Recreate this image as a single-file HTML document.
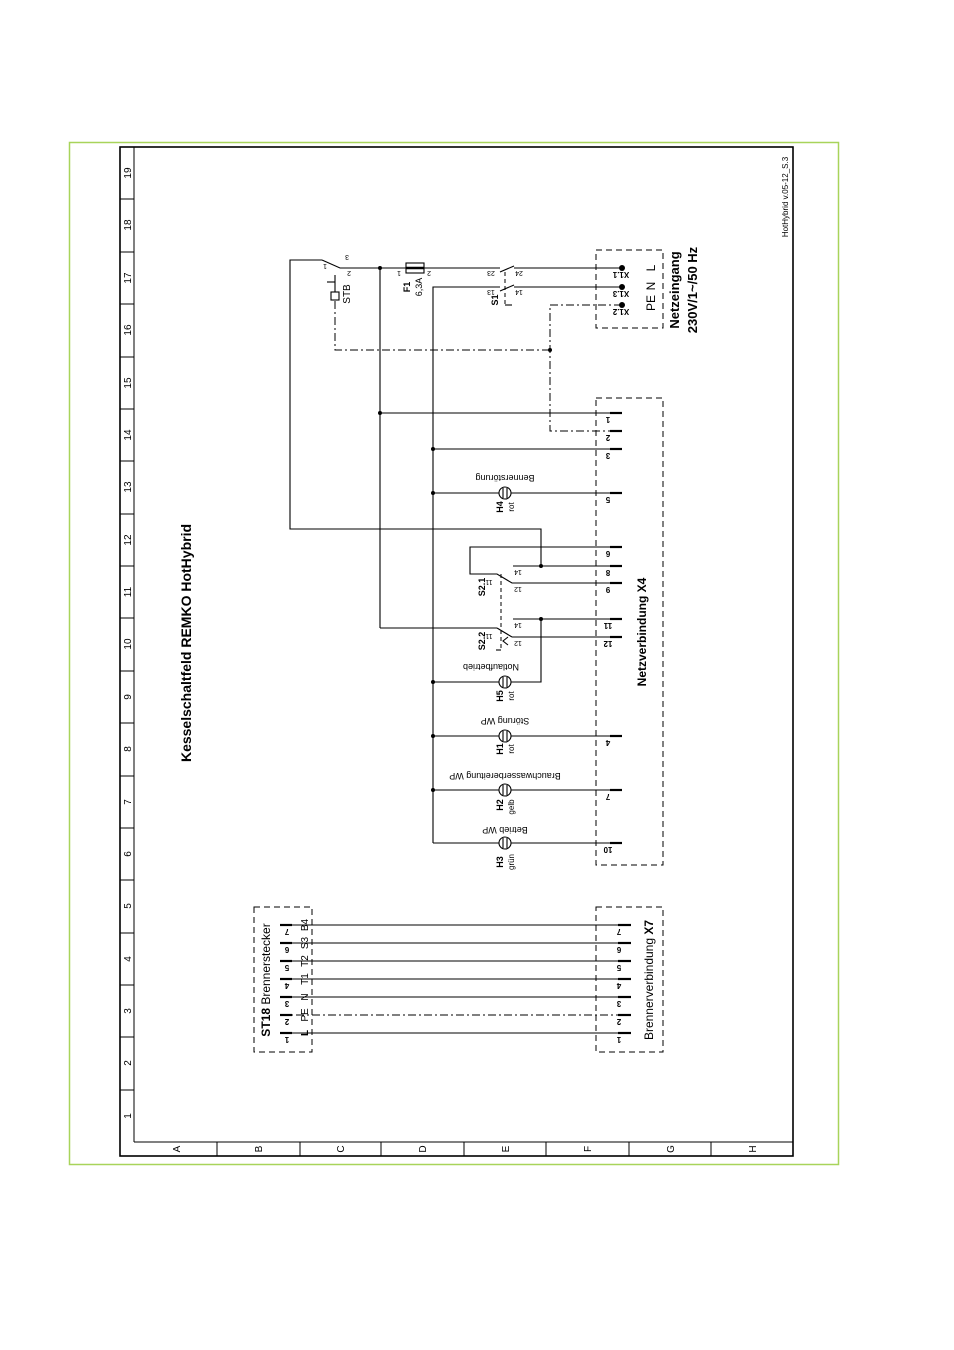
<!DOCTYPE html>
<html><head><meta charset="utf-8"><style>
html,body{margin:0;padding:0;background:#fff;}
svg{display:block;font-family:"Liberation Sans",sans-serif;}
</style></head><body>
<svg width="954" height="1350" viewBox="0 0 954 1350" xmlns="http://www.w3.org/2000/svg">
<rect x="69.5" y="142.5" width="769" height="1022" fill="none" stroke="#a8d45a" stroke-width="1.5"/>
<g stroke="#000" fill="none">
<rect x="120" y="147" width="673" height="1009" stroke-width="1.6"/>
<line x1="134" y1="147" x2="134" y2="1142" stroke-width="1"/>
<line x1="134" y1="1142" x2="793" y2="1142" stroke-width="1"/>
<g stroke-width="1">
<line x1="120" y1="199" x2="134" y2="199"/><line x1="120" y1="252" x2="134" y2="252"/><line x1="120" y1="304" x2="134" y2="304"/><line x1="120" y1="357" x2="134" y2="357"/><line x1="120" y1="409" x2="134" y2="409"/><line x1="120" y1="461" x2="134" y2="461"/><line x1="120" y1="514" x2="134" y2="514"/><line x1="120" y1="566" x2="134" y2="566"/><line x1="120" y1="618" x2="134" y2="618"/><line x1="120" y1="671" x2="134" y2="671"/><line x1="120" y1="723" x2="134" y2="723"/><line x1="120" y1="776" x2="134" y2="776"/><line x1="120" y1="828" x2="134" y2="828"/><line x1="120" y1="880" x2="134" y2="880"/><line x1="120" y1="933" x2="134" y2="933"/><line x1="120" y1="985" x2="134" y2="985"/><line x1="120" y1="1037" x2="134" y2="1037"/><line x1="120" y1="1090" x2="134" y2="1090"/>
<line x1="217" y1="1142" x2="217" y2="1156"/><line x1="300" y1="1142" x2="300" y2="1156"/><line x1="381" y1="1142" x2="381" y2="1156"/><line x1="464" y1="1142" x2="464" y2="1156"/><line x1="546" y1="1142" x2="546" y2="1156"/><line x1="629" y1="1142" x2="629" y2="1156"/><line x1="711" y1="1142" x2="711" y2="1156"/>
</g>
</g>
<g font-size="10" text-anchor="middle" fill="#000">
<text transform="translate(131,173) rotate(-90)">19</text><text transform="translate(131,225) rotate(-90)">18</text><text transform="translate(131,278) rotate(-90)">17</text><text transform="translate(131,330) rotate(-90)">16</text><text transform="translate(131,383) rotate(-90)">15</text><text transform="translate(131,435) rotate(-90)">14</text><text transform="translate(131,487) rotate(-90)">13</text><text transform="translate(131,540) rotate(-90)">12</text><text transform="translate(131,592) rotate(-90)">11</text><text transform="translate(131,644) rotate(-90)">10</text><text transform="translate(131,697) rotate(-90)">9</text><text transform="translate(131,749) rotate(-90)">8</text><text transform="translate(131,802) rotate(-90)">7</text><text transform="translate(131,854) rotate(-90)">6</text><text transform="translate(131,906) rotate(-90)">5</text><text transform="translate(131,959) rotate(-90)">4</text><text transform="translate(131,1011) rotate(-90)">3</text><text transform="translate(131,1063) rotate(-90)">2</text><text transform="translate(131,1116) rotate(-90)">1</text>
<text transform="translate(180,1149) rotate(-90)">A</text><text transform="translate(262,1149) rotate(-90)">B</text><text transform="translate(344,1149) rotate(-90)">C</text><text transform="translate(426,1149) rotate(-90)">D</text><text transform="translate(509,1149) rotate(-90)">E</text><text transform="translate(591,1149) rotate(-90)">F</text><text transform="translate(674,1149) rotate(-90)">G</text><text transform="translate(756,1149) rotate(-90)">H</text>
</g>
<text transform="translate(191,643) rotate(-90)" font-size="14" font-weight="bold" text-anchor="middle">Kesselschaltfeld REMKO HotHybrid</text>
<text transform="translate(788,197) rotate(-90)" font-size="8" text-anchor="middle">HotHybrid v.05-12_S.3</text>

<!-- wiring -->
<g stroke="#000" stroke-width="1.1" fill="none">
<polyline points="322,260 290,260 290,529 541,529 541,566"/>
<line x1="346" y1="268" x2="406" y2="268"/><line x1="424" y1="268" x2="500" y2="268"/><line x1="514" y1="268" x2="622" y2="268"/>
<line x1="380" y1="268" x2="380" y2="628"/>
<line x1="380" y1="413" x2="622" y2="413"/>
<line x1="380" y1="628" x2="497" y2="628"/>
<polyline points="433,843 433,287 500,287"/><line x1="514" y1="287" x2="622" y2="287"/>
<line x1="433" y1="449" x2="622" y2="449"/>
<line x1="433" y1="493" x2="499" y2="493"/><line x1="511" y1="493" x2="622" y2="493"/>
<line x1="433" y1="682" x2="499" y2="682"/><polyline points="511,682 541,682 541,619"/>
<line x1="433" y1="736" x2="499" y2="736"/><line x1="511" y1="736" x2="622" y2="736"/>
<line x1="433" y1="790" x2="499" y2="790"/><line x1="511" y1="790" x2="622" y2="790"/>
<line x1="433" y1="843" x2="499" y2="843"/><line x1="511" y1="843" x2="622" y2="843"/>
<polyline points="622,547 470,547 470,574 497,574 512,583 622,583"/>
<line x1="513" y1="566" x2="622" y2="566"/>
<line x1="497" y1="628" x2="512" y2="637"/><line x1="512" y1="637" x2="622" y2="637"/>
<line x1="513" y1="619" x2="622" y2="619"/>
<!-- S1 blades -->
<line x1="500" y1="272" x2="514" y2="266"/><line x1="500" y1="291" x2="514" y2="285"/>
<line x1="505" y1="305" x2="512" y2="305"/>
<!-- STB -->
<polyline points="322,260 340,268 346,268"/>
<rect x="331" y="292" width="8" height="8"/>
<line x1="335" y1="275" x2="335" y2="292"/>
<line x1="327" y1="282" x2="335" y2="282"/>
<rect x="406" y="263" width="18" height="10"/>
<line x1="406" y1="268" x2="424" y2="268" stroke-width="2.5"/>
<!-- wire 7 lines bottom -->
<line x1="280" y1="925" x2="631" y2="925"/><line x1="280" y1="943" x2="631" y2="943"/><line x1="280" y1="961" x2="631" y2="961"/><line x1="280" y1="979" x2="631" y2="979"/><line x1="280" y1="997" x2="631" y2="997"/><line x1="280" y1="1033" x2="631" y2="1033"/>
<line x1="496" y1="650" x2="501" y2="650"/><polyline points="508,637 503,641 508,645"/>
</g>
<g stroke="#000" stroke-width="1" fill="none" stroke-dasharray="8,3,2,3">
<line x1="280" y1="1015" x2="631" y2="1015"/>
<polyline points="622,305 550,305 550,431 622,431"/>
<polyline points="550,350 335,350 335,300"/>
</g>
<g stroke="#000" stroke-width="1" fill="none" stroke-dasharray="4,3">
<line x1="505" y1="272" x2="505" y2="305"/>
<line x1="501" y1="574" x2="501" y2="650"/>
</g>
<g stroke="#000" stroke-width="1" fill="none" stroke-dasharray="6,4">
<rect x="596" y="250" width="67" height="78"/>
<rect x="596" y="398" width="67" height="467"/>
<rect x="596" y="907" width="67" height="145"/>
<rect x="254" y="907" width="58" height="145"/>
</g>
<!-- terminal stubs -->
<g stroke="#000" stroke-width="2.2">
<line x1="610" y1="413" x2="622" y2="413"/><line x1="610" y1="431" x2="622" y2="431"/><line x1="610" y1="449" x2="622" y2="449"/><line x1="610" y1="493" x2="622" y2="493"/><line x1="610" y1="547" x2="622" y2="547"/><line x1="610" y1="566" x2="622" y2="566"/><line x1="610" y1="583" x2="622" y2="583"/><line x1="610" y1="619" x2="622" y2="619"/><line x1="610" y1="637" x2="622" y2="637"/><line x1="610" y1="736" x2="622" y2="736"/><line x1="610" y1="790" x2="622" y2="790"/><line x1="610" y1="843" x2="622" y2="843"/>
<line x1="618" y1="925" x2="631" y2="925"/><line x1="618" y1="943" x2="631" y2="943"/><line x1="618" y1="961" x2="631" y2="961"/><line x1="618" y1="979" x2="631" y2="979"/><line x1="618" y1="997" x2="631" y2="997"/><line x1="618" y1="1015" x2="631" y2="1015"/><line x1="618" y1="1033" x2="631" y2="1033"/>
<line x1="280" y1="925" x2="292" y2="925"/><line x1="280" y1="943" x2="292" y2="943"/><line x1="280" y1="961" x2="292" y2="961"/><line x1="280" y1="979" x2="292" y2="979"/><line x1="280" y1="997" x2="292" y2="997"/><line x1="280" y1="1015" x2="292" y2="1015"/><line x1="280" y1="1033" x2="292" y2="1033"/>
</g>
<!-- dots -->
<g fill="#000">
<circle cx="622" cy="268" r="3"/><circle cx="622" cy="287" r="3"/><circle cx="622" cy="305" r="3"/>
<circle cx="380" cy="268" r="2"/><circle cx="380" cy="413" r="2"/><circle cx="550" cy="350" r="2"/>
<circle cx="433" cy="449" r="2"/><circle cx="433" cy="493" r="2"/><circle cx="433" cy="682" r="2"/><circle cx="433" cy="736" r="2"/><circle cx="433" cy="790" r="2"/>
<circle cx="541" cy="566" r="2"/><circle cx="541" cy="619" r="2"/>
</g>
<!-- lamps -->
<g stroke="#000" stroke-width="1.1" fill="none">
<circle cx="505" cy="493" r="6"/><line x1="503" y1="488" x2="503" y2="498"/><line x1="507" y1="488" x2="507" y2="498"/>
<circle cx="505" cy="682" r="6"/><line x1="503" y1="677" x2="503" y2="687"/><line x1="507" y1="677" x2="507" y2="687"/>
<circle cx="505" cy="736" r="6"/><line x1="503" y1="731" x2="503" y2="741"/><line x1="507" y1="731" x2="507" y2="741"/>
<circle cx="505" cy="790" r="6"/><line x1="503" y1="785" x2="503" y2="795"/><line x1="507" y1="785" x2="507" y2="795"/>
<circle cx="505" cy="843" r="6"/><line x1="503" y1="838" x2="503" y2="848"/><line x1="507" y1="838" x2="507" y2="848"/>
</g>
<!-- labels -->
<g font-size="9" text-anchor="middle" fill="#000">
<text transform="translate(505,475) rotate(180)">Bennerstörung</text>
<text transform="translate(491,664) rotate(180)">Notlaufbetrieb</text>
<text transform="translate(505,718) rotate(180)">Störung WP</text>
<text transform="translate(505,773) rotate(180)">Brauchwasserbereitung WP</text>
<text transform="translate(505,827) rotate(180)">Betrieb WP</text>
<g font-weight="bold"><text transform="translate(503,507) rotate(-90)">H4</text><text transform="translate(503,696) rotate(-90)">H5</text><text transform="translate(503,749) rotate(-90)">H1</text><text transform="translate(503,805) rotate(-90)">H2</text><text transform="translate(503,862) rotate(-90)">H3</text>
<text transform="translate(485,587) rotate(-90)">S2.1</text><text transform="translate(485,641) rotate(-90)">S2.2</text>
<text transform="translate(498,300) rotate(-90)">S1</text><text transform="translate(410,287) rotate(-90)">F1</text></g>
<g font-size="8"><text transform="translate(514,507) rotate(-90)">rot</text><text transform="translate(514,696) rotate(-90)">rot</text><text transform="translate(514,749) rotate(-90)">rot</text><text transform="translate(514,807) rotate(-90)">gelb</text><text transform="translate(514,862) rotate(-90)">grün</text></g>
<text transform="translate(422,287) rotate(-90)" font-size="9">6,3A</text>
<text transform="translate(350,294) rotate(-90)" font-size="10">STB</text>
<g font-size="7">
<text transform="translate(489,580) rotate(180)">11</text><text transform="translate(518,570) rotate(180)">14</text><text transform="translate(518,587) rotate(180)">12</text>
<text transform="translate(489,634) rotate(180)">11</text><text transform="translate(518,623) rotate(180)">14</text><text transform="translate(518,641) rotate(180)">12</text>
<text transform="translate(491,271) rotate(180)">23</text><text transform="translate(519,271) rotate(180)">24</text><text transform="translate(491,290) rotate(180)">13</text><text transform="translate(519,290) rotate(180)">14</text>
<text transform="translate(399,271) rotate(180)">1</text><text transform="translate(429,271) rotate(180)">2</text>
<text transform="translate(349,271) rotate(180)">2</text><text transform="translate(347,255) rotate(180)">3</text><text transform="translate(325,264) rotate(180)">1</text>
</g>
<g font-size="8" font-weight="bold">
<text transform="translate(608,417) rotate(180)">1</text><text transform="translate(608,435) rotate(180)">2</text><text transform="translate(608,453) rotate(180)">3</text><text transform="translate(608,497) rotate(180)">5</text><text transform="translate(608,551) rotate(180)">6</text><text transform="translate(608,570) rotate(180)">8</text><text transform="translate(608,587) rotate(180)">9</text><text transform="translate(608,623) rotate(180)">11</text><text transform="translate(608,641) rotate(180)">12</text><text transform="translate(608,740) rotate(180)">4</text><text transform="translate(608,794) rotate(180)">7</text><text transform="translate(608,847) rotate(180)">10</text>
<text transform="translate(621,272) rotate(180)">X1.1</text><text transform="translate(621,291) rotate(180)">X1.3</text><text transform="translate(621,309) rotate(180)">X1.2</text>
<text transform="translate(619,929) rotate(180)">7</text><text transform="translate(619,947) rotate(180)">6</text><text transform="translate(619,965) rotate(180)">5</text><text transform="translate(619,983) rotate(180)">4</text><text transform="translate(619,1001) rotate(180)">3</text><text transform="translate(619,1019) rotate(180)">2</text><text transform="translate(619,1037) rotate(180)">1</text>
<text transform="translate(287,929) rotate(180)">7</text><text transform="translate(287,947) rotate(180)">6</text><text transform="translate(287,965) rotate(180)">5</text><text transform="translate(287,983) rotate(180)">4</text><text transform="translate(287,1001) rotate(180)">3</text><text transform="translate(287,1019) rotate(180)">2</text><text transform="translate(287,1037) rotate(180)">1</text>
</g>
<g font-size="10">
<text transform="translate(308,925) rotate(-90)">B4</text><text transform="translate(308,943) rotate(-90)">S3</text><text transform="translate(308,961) rotate(-90)">T2</text><text transform="translate(308,979) rotate(-90)">T1</text><text transform="translate(308,997) rotate(-90)">N</text><text transform="translate(308,1015) rotate(-90)">PE</text><text transform="translate(308,1033) rotate(-90)" font-weight="bold">L</text>
<text transform="translate(655,268) rotate(-90)" font-size="12">L</text><text transform="translate(655,286) rotate(-90)" font-size="12">N</text><text transform="translate(655,303) rotate(-90)" font-size="12">PE</text>
</g>
<text transform="translate(270,980) rotate(-90)" font-size="12"><tspan font-weight="bold">ST18</tspan> Brennerstecker</text>
<text transform="translate(653,980) rotate(-90)" font-size="12">Brennerverbindung <tspan font-weight="bold">X7</tspan></text>
<text transform="translate(646,632) rotate(-90)" font-size="12" font-weight="bold">Netzverbindung  X4</text>
<text transform="translate(679,290) rotate(-90)" font-size="13" font-weight="bold">Netzeingang</text>
<text transform="translate(697,290) rotate(-90)" font-size="13" font-weight="bold">230V/1~/50 Hz</text>
</g>
</svg>
</body></html>
